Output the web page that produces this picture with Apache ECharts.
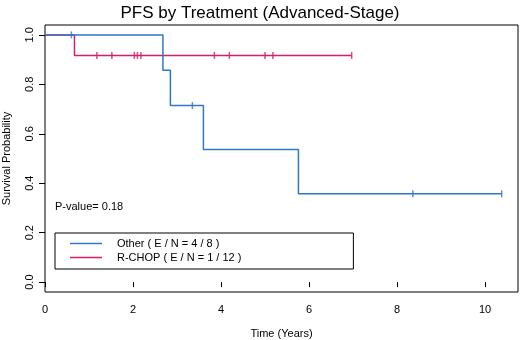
<!DOCTYPE html>
<html>
<head>
<meta charset="utf-8">
<script src="https://cdn.jsdelivr.net/npm/echarts@6/dist/echarts.min.js"></script>
<style>
  html, body { margin: 0; padding: 0; background: #fff; }
  #main { width: 520px; height: 340px; }
</style>
</head>
<body>
<div id="main"></div>
<script>
// Kaplan-Meier data
var otherEventTimes = [2.68, 2.85, 3.60, 5.76];
var otherSurv = [0.857, 0.714, 0.536, 0.357];
var otherCensor = [0.60, 3.35, 8.36, 10.38];

var rchopEventTimes = [0.67];
var rchopSurv = [0.917];
var rchopCensor = [1.18, 1.52, 2.03, 2.10, 2.18, 3.85, 4.19, 5.00, 5.18, 6.97];

var xTicks = [0, 2, 4, 6, 8, 10];
var yTicks = [0, 0.2, 0.4, 0.6, 0.8, 1.0];

var seriesNames = ['Other ( E / N = 4 / 8 )', 'R-CHOP ( E / N = 1 / 12 )'];
var pValueText = 'P-value= 0.18';

var BLUE = '#2f78c8';
var RED = '#d21f68';
var FONT = '"Liberation Sans", Arial, sans-serif';

// survival value at time t (step function)
var survAt = function(times, surv, t) {
	var s = 1;
	for (var i = 0; i < times.length; i++) {
		if (times[i] <= t) s = surv[i];
	}
	return s;
};

// step points for a curve, ending at the last follow-up time
var stepPoints = function(times, surv, censor) {
	var pts = [[0, 1]];
	for (var i = 0; i < times.length; i++) {
		pts.push([times[i], surv[i]]);
	}
	var last = Math.max(times[times.length - 1], censor[censor.length - 1]);
	pts.push([last, survAt(times, surv, last)]);
	return pts;
};

var censorPoints = function(times, surv, censor) {
	return censor.map(function(t) { return [t, survAt(times, surv, t)]; });
};

var myChart = echarts.init(document.getElementById('main'));

var option = {
	backgroundColor: '#fff',
	animation: false,
	textStyle: { fontFamily: FONT },
	title: {
		text: 'PFS by Treatment (Advanced-Stage)',
		left: 'center',
		top: 0,
		textStyle: { fontSize: 17, fontWeight: 'normal', color: '#000', fontFamily: FONT }
	},
	grid: {
		left: 45, right: 2, top: 25, bottom: 48,
		outerBoundsMode: 'none',
		containLabel: false,
		show: true, borderColor: '#000', borderWidth: 1, backgroundColor: 'transparent'
	},
	xAxis: {
		type: 'value',
		min: 0, max: 10.75,
		name: 'Time (Years)',
		nameLocation: 'middle',
		nameGap: 36,
		nameTextStyle: { fontSize: 11, color: '#000' },
		axisLine: { show: false },
		axisTick: { show: true, length: 5, customValues: xTicks, lineStyle: { color: '#000' } },
		axisLabel: { customValues: xTicks, fontSize: 11, color: '#000', margin: 12 },
		splitLine: { show: false }
	},
	yAxis: {
		type: 'value',
		min: -0.04, max: 1.04,
		name: 'Survival Probability',
		nameLocation: 'middle',
		nameRotate: 90,
		nameGap: 33,
		nameTextStyle: { fontSize: 11, color: '#000' },
		axisLine: { show: false },
		axisTick: { show: true, length: 6, customValues: yTicks, lineStyle: { color: '#000' } },
		axisLabel: {
			customValues: yTicks, fontSize: 11, color: '#000', rotate: 90, margin: 10,
			formatter: function(v) { return v.toFixed(1); }
		},
		splitLine: { show: false }
	},
	legend: {
		data: seriesNames,
		orient: 'vertical',
		left: 55, top: 233,
		padding: [5, 112, 6, 15],
		itemGap: 3,
		itemWidth: 32, itemHeight: 12,
		icon: 'path://M0,5 L32,5 L32,6.5 L0,6.5 Z',
		borderColor: '#000', borderWidth: 1,
		textStyle: { fontSize: 11, color: '#000', padding: [0, 0, 0, 10] }
	},
	graphic: [{
		type: 'text',
		left: 55, top: 201,
		style: { text: pValueText, font: '11px ' + FONT, fill: '#000' }
	}],
	series: [
		{
			name: seriesNames[0], type: 'line', step: 'end', showSymbol: false,
			color: BLUE, lineStyle: { width: 1.5, color: BLUE },
			data: stepPoints(otherEventTimes, otherSurv, otherCensor), z: 3
		},
		{
			name: seriesNames[1], type: 'line', step: 'end', showSymbol: false,
			color: RED, lineStyle: { width: 1.5, color: RED },
			data: stepPoints(rchopEventTimes, rchopSurv, rchopCensor), z: 2
		},
		{
			name: 'otherCensor', type: 'scatter', symbol: 'rect', symbolSize: [1.5, 7],
			itemStyle: { color: BLUE }, data: censorPoints(otherEventTimes, otherSurv, otherCensor), z: 4
		},
		{
			name: 'rchopCensor', type: 'scatter', symbol: 'rect', symbolSize: [1.5, 7],
			itemStyle: { color: RED }, data: censorPoints(rchopEventTimes, rchopSurv, rchopCensor), z: 4
		}
	]
};

myChart.setOption(option);
</script>
</body>
</html>
